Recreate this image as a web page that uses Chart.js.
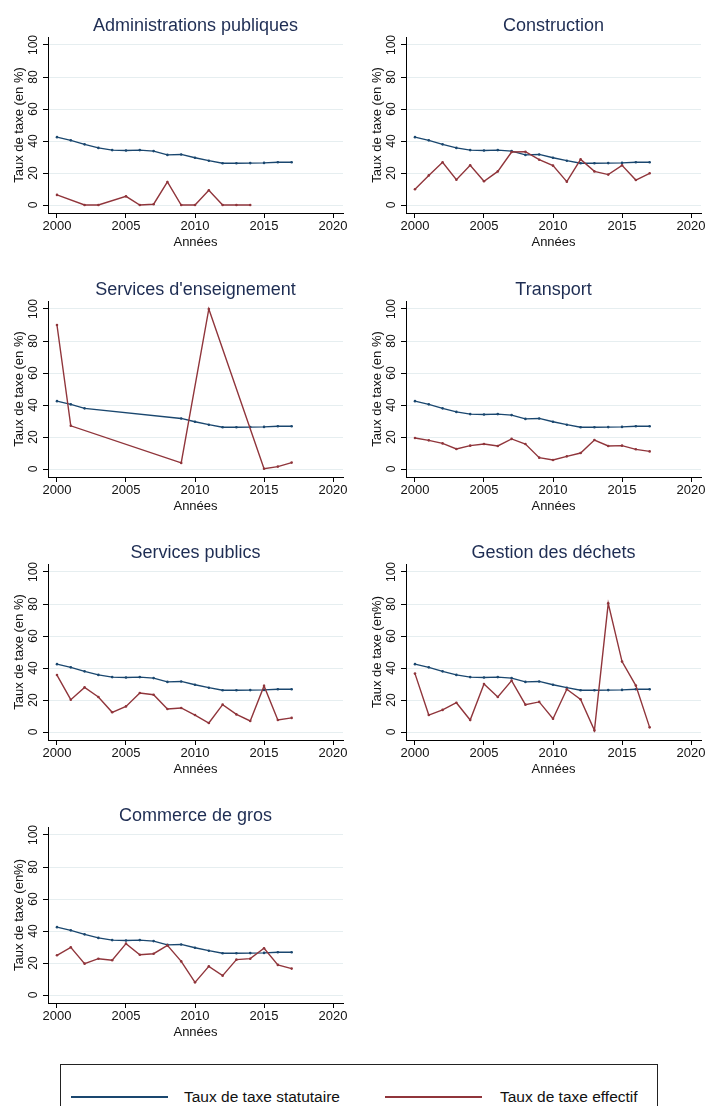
<!DOCTYPE html>
<html>
<head>
<meta charset="utf-8">
<script src="https://cdn.jsdelivr.net/npm/chart.js@4"></script>
<style>
    body { margin: 0; background: #fff; width: 708px; height: 1106px; overflow: hidden; position: relative;
           font-family: "Liberation Sans", Arial, sans-serif; }
    canvas { position: absolute; }
    #legende { position: absolute; left: 60px; top: 1064px; width: 596px; height: 60px; border: 1px solid #222; }
    #legende .trait { position: absolute; top: 31px; width: 97px; height: 2px; }
    #legende .texte { position: absolute; top: 23px; font-size: 15.5px; line-height: 18px; color: #111; white-space: nowrap; }
</style>
</head>
<body>

<div id="legende">
    <div class="trait" style="left:10px;background:#1a476f"></div>
    <div class="texte" style="left:123px">Taux de taxe statutaire</div>
    <div class="trait" style="left:324px;background:#90353b"></div>
    <div class="texte" style="left:439px">Taux de taxe effectif</div>
</div>

<script>
var annees = [2000, 2001, 2002, 2003, 2004, 2005, 2006, 2007, 2008, 2009,
              2010, 2011, 2012, 2013, 2014, 2015, 2016, 2017];

var titres = ["Administrations publiques", "Construction", "Services d'enseignement",
              "Transport", "Services publics", "Gestion des déchets", "Commerce de gros"];

var titresY = ["Taux de taxe (en %)", "Taux de taxe (en %)", "Taux de taxe (en %)",
               "Taux de taxe (en %)", "Taux de taxe (en %)", "Taux de taxe (en%)", "Taux de taxe (en%)"];

// taux statutaire (identique pour tous les secteurs)
var statutaire = [42.4, 40.4, 37.9, 35.7, 34.3, 34.1, 34.3, 33.7, 31.3, 31.6,
                  29.5, 27.7, 26.1, 26.1, 26.2, 26.3, 26.7, 26.7];
// enseignement : années manquantes
var statutaireEns = [42.4, 40.4, 37.9, null, null, null, null, null, null, 31.6,
                     29.5, 27.7, 26.1, 26.1, 26.2, 26.3, 26.7, 26.7];

var effAdmin = [6.3, null, 0, 0, null, 5.4, 0, 0.5, 14.4, 0,
                0, 9.2, 0, 0, 0, null, null, null];
var effConstruction = [9.8, 18.5, 26.7, 15.8, 24.8, 14.8, 21, 33.1, 33.3, 28.3,
                       24.6, 14.6, 28.5, 21, 19, 24.8, 15.6, 19.8];
var effEnseignement = [90, 27, null, null, null, null, null, null, null, 3.8,
                       null, 100, null, null, null, 0.2, 1.5, 4];
var effTransport = [19.4, 17.9, 16, 12.5, 14.6, 15.6, 14.4, 18.8, 15.6, 7.1,
                    5.6, 7.9, 10, 18.1, 14.4, 14.6, 12.3, 11];
var effServicesPublics = [35.6, 20.2, 27.9, 21.9, 12.3, 16, 24.4, 23.3, 14.4, 15,
                          10.6, 5.6, 17.1, 11, 6.9, 28.8, 7.5, 8.8];
var effDechets = [36.5, 10.6, 13.8, 18.3, 7.5, 30, 21.9, 32.1, 17.1, 18.8,
                  8.3, 26.7, 20.4, 1, 80.4, 44, 29, 2.9];
var effCommerce = [24.8, 29.8, 19.6, 22.7, 21.7, 32.1, 25.2, 25.8, 31, 21,
                   7.9, 17.9, 12.1, 22.1, 22.7, 29.2, 18.8, 16.5];

var seriesStat = [statutaire, statutaire, statutaireEns, statutaire, statutaire, statutaire, statutaire];
var seriesEff = [effAdmin, effConstruction, effEnseignement, effTransport,
                 effServicesPublics, effDechets, effCommerce];

var BLEU = "#1a476f";
var ROUGE = "#90353b";
var POLICE = '"Liberation Sans", Arial, sans-serif';

Chart.defaults.font.family = POLICE;

// libellés verticaux de l'axe Y
var etiquettesY = {
    id: "etiquettesY",
    afterDraw: function (chart) {
        var s = chart.scales.y, ctx = chart.ctx;
        ctx.save();
        ctx.font = "12px " + POLICE;
        ctx.fillStyle = "#111";
        ctx.textAlign = "center";
        ctx.textBaseline = "alphabetic";
        s.ticks.forEach(function (t) {
            ctx.save();
            ctx.translate(s.right - 11, s.getPixelForValue(t.value));
            ctx.rotate(-Math.PI / 2);
            ctx.fillText(String(t.value), 0, 0);
            ctx.restore();
        });
        ctx.restore();
    }
};

function points(valeurs) {
    return annees.map(function (a, i) {
        return { x: a, y: valeurs[i] };
    });
}

function serie(valeurs, couleur, ordre) {
    return {
        data: points(valeurs),
        borderColor: couleur,
        backgroundColor: couleur,
        borderWidth: 1.4,
        pointRadius: 1.3,
        pointBorderWidth: 0,
        pointBackgroundColor: couleur,
        spanGaps: true,
        tension: 0,
        order: ordre
    };
}

var hautRangees = [0, 264, 527, 790];

function panneau(i) {
    var canvas = document.createElement("canvas");
    canvas.width = 350;
    canvas.height = 263;
    canvas.style.left = (i % 2 ? 358 : 0) + "px";
    canvas.style.top = hautRangees[Math.floor(i / 2)] + "px";
    document.body.appendChild(canvas);

    new Chart(canvas, {
        type: "line",
        data: {
            datasets: [
                serie(seriesStat[i], BLEU, 1),
                serie(seriesEff[i], ROUGE, 0)
            ]
        },
        options: {
            responsive: false,
            animation: false,
            devicePixelRatio: 1,
            layout: { padding: { top: 0, right: 7, left: 0, bottom: 0 } },
            plugins: {
                legend: { display: false },
                tooltip: { enabled: false },
                title: {
                    display: true,
                    text: titres[i],
                    fullSize: false,
                    color: "#1e2d53",
                    font: { size: 18, weight: "normal" },
                    padding: { top: 14.8, bottom: 0.6 }
                }
            },
            scales: {
                x: {
                    type: "linear",
                    min: 1999.35,
                    max: 2020.72,
                    afterFit: function (s) { s.height = 50; },
                    ticks: {
                        stepSize: 5,
                        includeBounds: false,
                        maxRotation: 0,
                        color: "#111",
                        font: { size: 13 },
                        padding: 1,
                        callback: function (v) { return String(v); }
                    },
                    grid: { drawOnChartArea: false, drawTicks: true, tickLength: 5, tickColor: "#000" },
                    border: { color: "#000", width: 1 },
                    title: {
                        display: true,
                        text: "Années",
                        color: "#111",
                        font: { size: 13 },
                        padding: { top: 0, bottom: 13.2 }
                    }
                },
                y: {
                    min: -5,
                    max: 105,
                    afterFit: function (s) { s.width = 48; },
                    ticks: { stepSize: 20, includeBounds: false, display: false },
                    grid: { color: "#e6eef0", lineWidth: 1, tickLength: 5, tickColor: "#000" },
                    border: { color: "#000", width: 1 },
                    title: {
                        display: true,
                        text: titresY[i],
                        color: "#111",
                        font: { size: 13 },
                        padding: { top: 11.5, bottom: 0 }
                    }
                }
            }
        },
        plugins: [etiquettesY]
    });
}

for (var i = 0; i < titres.length; i++) {
    panneau(i);
}
</script>
</body>
</html>
